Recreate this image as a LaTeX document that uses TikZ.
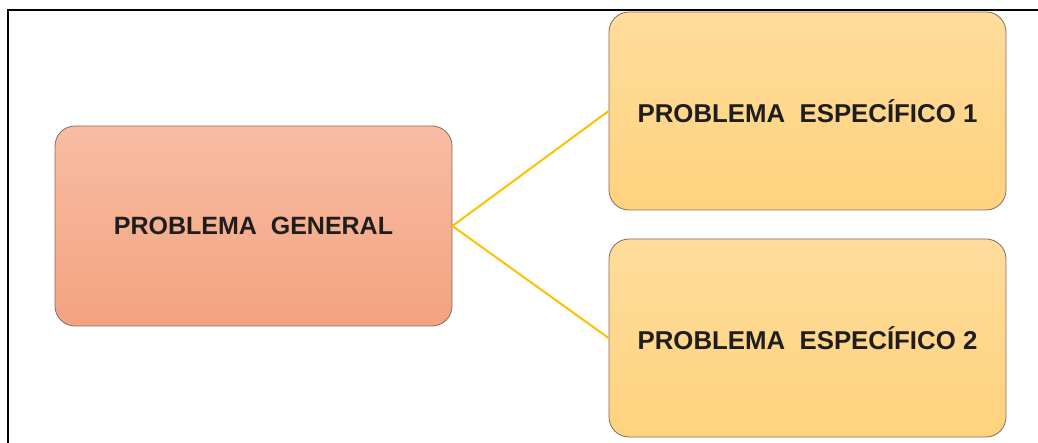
\documentclass[tikz,border=0pt]{standalone}
\usepackage{fontspec}
\setmainfont{Liberation Sans}
\definecolor{genTop}{HTML}{F7BDA3}
\definecolor{genBot}{HTML}{F4A27F}
\definecolor{espTop}{HTML}{FFDC9C}
\definecolor{espBot}{HTML}{FFD27D}
\definecolor{boxLine}{HTML}{7E6E60}
\definecolor{linkCol}{HTML}{FFC000}
\definecolor{textCol}{HTML}{1E1E1E}
\tikzset{
    probbox/.style={rectangle,rounded corners=20pt,draw=boxLine,line width=0.8pt,
        minimum width=397pt,inner sep=0pt,text=textCol},
    general/.style={probbox,minimum height=200pt,top color=genTop,bottom color=genBot,
        font=\fontsize{25}{30}\selectfont\bfseries},
    especifico/.style={probbox,minimum height=198pt,top color=espTop,bottom color=espBot,
        font=\fontsize{25.8}{31}\selectfont\bfseries},
    link/.style={-,draw=linkCol,line width=2pt},
}
\begin{document}
\begin{tikzpicture}[x=1pt,y=-1pt]
    \useasboundingbox (0,0) rectangle (1038,443);
    \draw[line width=2pt] (7.5,443) -- (7.5,10.5) -- (1038,10.5);
    \node[general] (g) at (253.5,226) {PROBLEMA~~GENERAL};
    \node[especifico] (e1) at (807.5,111) {PROBLEMA~~ESPECÍFICO 1};
    \node[especifico] (e2) at (807.5,338) {PROBLEMA~~ESPECÍFICO 2};
    \draw[link] (g.east) -- (e1.west);
    \draw[link] (g.east) -- (e2.west);
\end{tikzpicture}
\end{document}
